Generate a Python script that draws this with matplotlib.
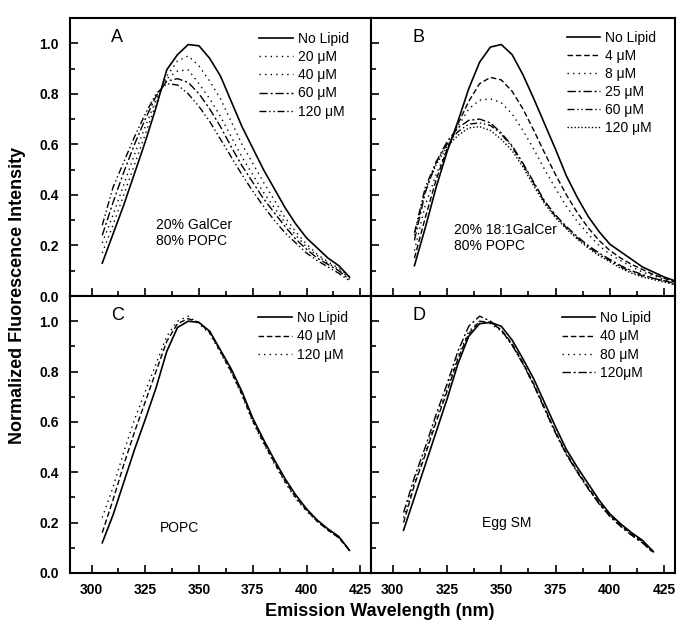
import numpy as np
import matplotlib
matplotlib.use("Agg")
import matplotlib.pyplot as plt

plt.rcParams['font.family'] = ['Liberation Sans', 'DejaVu Sans']

# Panel A: 20% GalCer / 80% POPC
wl_a = [305, 310, 315, 320, 325, 330, 335, 340, 345, 350, 355, 360,
        365, 370, 375, 380, 385, 390, 395, 400, 405, 410, 415, 420]
a_none = [0.13, 0.245, 0.36, 0.485, 0.61, 0.745, 0.895, 0.955, 0.995, 0.99, 0.94, 0.87,
          0.77, 0.67, 0.585, 0.50, 0.425, 0.35, 0.285, 0.23, 0.19, 0.15, 0.12, 0.075]
a_20 = [0.17, 0.28, 0.40, 0.52, 0.64, 0.76, 0.87, 0.93, 0.95, 0.91, 0.85, 0.78,
        0.69, 0.60, 0.525, 0.45, 0.38, 0.31, 0.255, 0.205, 0.165, 0.135, 0.11, 0.075]
a_40 = [0.21, 0.32, 0.44, 0.56, 0.67, 0.775, 0.86, 0.89, 0.895, 0.84, 0.78, 0.71,
        0.63, 0.55, 0.48, 0.41, 0.35, 0.29, 0.24, 0.195, 0.16, 0.13, 0.105, 0.07]
a_60 = [0.24, 0.37, 0.49, 0.60, 0.70, 0.79, 0.85, 0.86, 0.845, 0.80, 0.74, 0.67,
        0.59, 0.515, 0.45, 0.385, 0.33, 0.275, 0.225, 0.185, 0.15, 0.125, 0.10, 0.065]
a_120 = [0.28, 0.43, 0.53, 0.63, 0.72, 0.80, 0.84, 0.835, 0.80, 0.75, 0.69, 0.62,
         0.55, 0.48, 0.415, 0.355, 0.30, 0.25, 0.21, 0.17, 0.14, 0.115, 0.09, 0.06]

# Panel B: 20% 18:1GalCer / 80% POPC
wl_b = [310, 315, 320, 325, 330, 335, 340, 345, 350, 355, 360, 365, 370,
        375, 380, 385, 390, 395, 400, 405, 410, 415, 420, 425, 430]
b_none = [0.12, 0.27, 0.43, 0.57, 0.69, 0.82, 0.925, 0.985, 0.995, 0.955, 0.875, 0.78, 0.68,
          0.58, 0.475, 0.39, 0.315, 0.255, 0.205, 0.175, 0.145, 0.115, 0.095, 0.075, 0.06]
b_4 = [0.15, 0.31, 0.46, 0.58, 0.68, 0.77, 0.84, 0.865, 0.855, 0.81, 0.74, 0.655, 0.565,
       0.48, 0.40, 0.33, 0.27, 0.22, 0.18, 0.15, 0.125, 0.105, 0.085, 0.07, 0.055]
b_8 = [0.18, 0.36, 0.48, 0.58, 0.67, 0.74, 0.775, 0.78, 0.765, 0.72, 0.655, 0.58, 0.50,
       0.425, 0.355, 0.295, 0.245, 0.20, 0.165, 0.14, 0.115, 0.095, 0.08, 0.065, 0.05]
b_25 = [0.22, 0.41, 0.53, 0.61, 0.665, 0.695, 0.70, 0.685, 0.645, 0.595, 0.525, 0.45, 0.375,
        0.32, 0.275, 0.235, 0.20, 0.17, 0.145, 0.12, 0.10, 0.085, 0.07, 0.06, 0.05]
b_60 = [0.25, 0.43, 0.53, 0.60, 0.65, 0.68, 0.685, 0.675, 0.64, 0.59, 0.52, 0.445, 0.37,
        0.315, 0.27, 0.23, 0.195, 0.165, 0.14, 0.115, 0.095, 0.08, 0.07, 0.06, 0.045]
b_120 = [0.24, 0.42, 0.52, 0.59, 0.635, 0.665, 0.67, 0.655, 0.62, 0.575, 0.51, 0.435, 0.365,
         0.31, 0.265, 0.225, 0.19, 0.16, 0.135, 0.11, 0.09, 0.075, 0.065, 0.055, 0.045]

# Panel C: POPC
wl_c = wl_a
c_none = [0.12, 0.23, 0.36, 0.49, 0.61, 0.735, 0.88, 0.975, 1.0, 0.995, 0.96, 0.885,
          0.81, 0.72, 0.615, 0.53, 0.45, 0.375, 0.31, 0.255, 0.21, 0.175, 0.145, 0.09]
c_40 = [0.16, 0.29, 0.43, 0.56, 0.68, 0.80, 0.92, 0.99, 1.01, 0.995, 0.955, 0.88,
        0.80, 0.71, 0.605, 0.52, 0.44, 0.365, 0.30, 0.25, 0.205, 0.17, 0.14, 0.09]
c_120 = [0.22, 0.34, 0.48, 0.61, 0.72, 0.83, 0.94, 1.0, 1.02, 0.99, 0.95, 0.875,
         0.795, 0.705, 0.60, 0.515, 0.435, 0.36, 0.295, 0.245, 0.205, 0.17, 0.14, 0.09]

# Panel D: Egg SM
wl_d = wl_a
d_none = [0.17, 0.30, 0.43, 0.56, 0.69, 0.83, 0.94, 0.99, 0.995, 0.98, 0.925, 0.85,
          0.77, 0.675, 0.58, 0.49, 0.42, 0.355, 0.29, 0.235, 0.195, 0.16, 0.13, 0.085]
d_40 = [0.20, 0.35, 0.47, 0.60, 0.72, 0.85, 0.95, 1.0, 0.995, 0.965, 0.91, 0.835,
        0.75, 0.655, 0.56, 0.475, 0.405, 0.34, 0.28, 0.23, 0.19, 0.155, 0.125, 0.085]
d_80 = [0.22, 0.36, 0.48, 0.61, 0.73, 0.86, 0.96, 1.0, 0.99, 0.96, 0.905, 0.83,
        0.745, 0.65, 0.555, 0.47, 0.40, 0.335, 0.275, 0.225, 0.185, 0.15, 0.12, 0.08]
d_120 = [0.24, 0.38, 0.50, 0.63, 0.75, 0.88, 0.98, 1.02, 1.0, 0.965, 0.905, 0.83,
         0.745, 0.65, 0.555, 0.47, 0.40, 0.335, 0.275, 0.225, 0.185, 0.15, 0.12, 0.08]

solid = '-'
dot = (0, (1, 3))
dense_dot = (0, (1, 1.5))
dash = (0, (4, 2))
dashdot = (0, (6, 2, 1.5, 2))
dashdotdot = (0, (5, 2, 1, 2, 1, 2))

panels = [
    ('A', wl_a, [(a_none, 'No Lipid', solid), (a_20, '20 \u03bcM', dot), (a_40, '40 \u03bcM', dot),
                 (a_60, '60 \u03bcM', dashdot), (a_120, '120 \u03bcM', dashdotdot)],
     ['20% GalCer', '80% POPC'], (330, 0.25)),
    ('B', wl_b, [(b_none, 'No Lipid', solid), (b_4, '4 \u03bcM', dash), (b_8, '8 \u03bcM', dot),
                 (b_25, '25 \u03bcM', dashdot), (b_60, '60 \u03bcM', dashdotdot),
                 (b_120, '120 \u03bcM', dense_dot)],
     ['20% 18:1GalCer', '80% POPC'], (328, 0.23)),
    ('C', wl_c, [(c_none, 'No Lipid', solid), (c_40, '40 \u03bcM', dash), (c_120, '120 \u03bcM', dot)],
     ['POPC'], (332, 0.18)),
    ('D', wl_d, [(d_none, 'No Lipid', solid), (d_40, '40 \u03bcM', dash), (d_80, '80 \u03bcM', dot),
                 (d_120, '120\u03bcM', dashdot)],
     ['Egg SM'], (341, 0.20)),
]

fig = plt.figure(figsize=(6.88, 6.35), dpi=100)
left, mid, right = 70 / 688, 371 / 688, 675 / 688
top, center, bottom = 1 - 18 / 635, 1 - 296 / 635, 1 - 573 / 635
rects = [
    [left, center, mid - left, top - center],
    [mid, center, right - mid, top - center],
    [left, bottom, mid - left, center - bottom],
    [mid, bottom, right - mid, center - bottom],
]
leg_pos = [(0.629, 0.95), (0.644, 0.955), (0.626, 0.945), (0.627, 0.945)]

for i, (letter, wl, series, note, note_xy) in enumerate(panels):
    ax = fig.add_axes(rects[i])
    for ys, lab, ls in series:
        lw = 1.2 if ls == solid else 1.0
        ax.plot(wl, ys, color='black', lw=lw, linestyle=ls, label=lab)
    ax.set_xlim(290, 430)
    ax.set_ylim(0, 1.1)
    ax.set_xticks([300, 325, 350, 375, 400, 425])
    ax.set_xticks(np.arange(312.5, 430, 25), minor=True)
    ax.set_yticks([0, 0.2, 0.4, 0.6, 0.8, 1.0])
    ax.set_yticks([0.1, 0.3, 0.5, 0.7, 0.9], minor=True)
    ax.tick_params(which='both', direction='in', top=False, right=False, width=1.2)
    ax.tick_params(which='major', length=6, labelsize=10)
    ax.tick_params(which='minor', length=3.5)
    ax.tick_params(axis='y', which='major', pad=8)
    ax.tick_params(axis='x', which='major', pad=7)
    for sp in ax.spines.values():
        sp.set_linewidth(1.5)
    if i < 2:
        ax.set_xticklabels([])
    else:
        ax.set_xticklabels(['300', '325', '350', '375', '400', '425'], fontweight='bold')
    if i % 2 == 1:
        ax.set_yticklabels([])
    else:
        ax.set_yticklabels(['0.0', '0.2', '0.4', '0.6', '0.8', '1.0'], fontweight='bold')
    ax.text(0.135, 0.93, letter, transform=ax.transAxes, fontsize=13, va='center', ha='left')
    ax.text(note_xy[0], note_xy[1], '\n'.join(note), fontsize=10, va='center', ha='left',
            linespacing=1.15)
    ax.legend(loc='upper left', bbox_to_anchor=leg_pos[i], frameon=False, fontsize=10,
              borderpad=0, borderaxespad=0, handlelength=2.4, handletextpad=0.35,
              labelspacing=0.3)

fig.text(18 / 688, 1 - 295 / 635, 'Normalized Fluorescence Intensity', rotation=90,
         fontsize=13, fontweight='bold', ha='center', va='center')
fig.text(380 / 688, 1 - 612 / 635, 'Emission Wavelength (nm)', fontsize=13,
         fontweight='bold', ha='center', va='center')

fig.savefig('out.png', dpi=100)
